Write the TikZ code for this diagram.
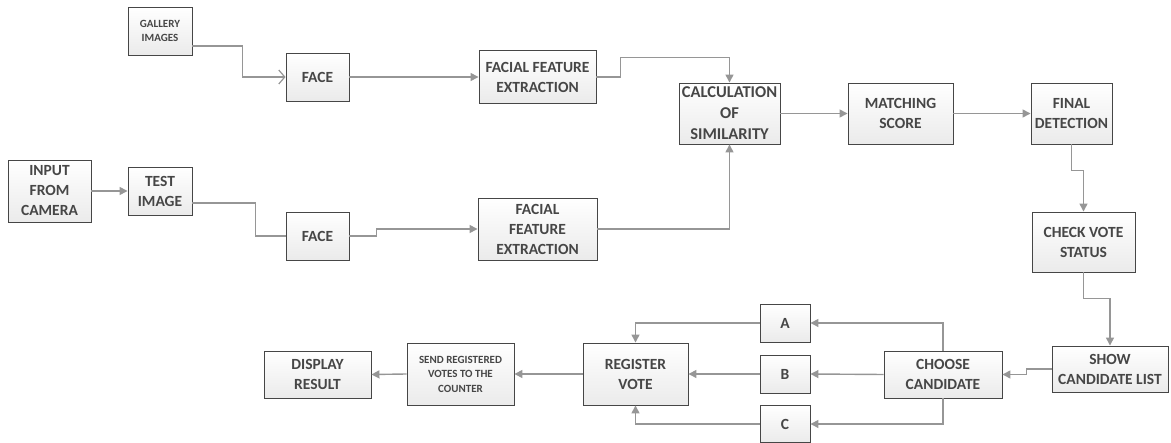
\documentclass[tikz,border=0pt]{standalone}
\usepackage{fontspec}
\setmainfont{Carlito}
\usetikzlibrary{arrows.meta,calc}
\definecolor{boxline}{RGB}{70,70,70}
\definecolor{conn}{RGB}{150,150,150}
\definecolor{txt}{RGB}{70,70,70}
\tikzset{
  blk/.style={draw=boxline, line width=0.9pt, top color=white, bottom color=gray!16,
    inner sep=0pt, align=center, text=txt, font=\fontsize{15.5}{20}\selectfont\bfseries},
  small/.style={font=\fontsize{11}{14.5}\selectfont\bfseries},
  big/.style={font=\fontsize{16.5}{21}\selectfont\bfseries},
  conx/.style={draw=conn, line width=1.4pt},
  arr/.style={conx, -{Triangle[length=8pt,width=8pt]}},
  barb/.style={conx, -{Straight Barb[length=6pt,width=14pt,line width=1.2pt]}},
}
\begin{document}
\begin{tikzpicture}[x=1pt,y=-1pt]
\useasboundingbox (0,0) rectangle (1171,443);
% nodes
\node[blk,small,minimum width=64,minimum height=48] (gallery) at (160,31) {GALLERY\\IMAGES};
\node[blk,minimum width=63,minimum height=48] (face1) at (317.5,77) {FACE};
\node[blk,minimum width=117,minimum height=53] (ffe1) at (537.5,77) {FACIAL FEATURE\\EXTRACTION};
\node[blk,big,minimum width=101,minimum height=61] (calc) at (729.5,113.5) {CALCULATION\\OF\\SIMILARITY};
\node[blk,minimum width=105,minimum height=61] (match) at (900.5,113.5) {MATCHING\\SCORE};
\node[blk,minimum width=81,minimum height=61] (final) at (1071.5,113.5) {FINAL\\DETECTION};
\node[blk,minimum width=103,minimum height=60] (check) at (1083.5,242) {CHECK VOTE\\STATUS};
\node[blk,minimum width=116,minimum height=46] (show) at (1110,369) {SHOW\\CANDIDATE LIST};
\node[blk,minimum width=118,minimum height=47] (choose) at (943,374.5) {CHOOSE\\CANDIDATE};
\node[blk,minimum width=50,minimum height=38] (A) at (785,323) {A};
\node[blk,minimum width=50,minimum height=38] (B) at (785,374) {B};
\node[blk,minimum width=50,minimum height=37] (C) at (785,424) {C};
\node[blk,minimum width=105,minimum height=62] (register) at (635.5,374) {REGISTER\\VOTE};
\node[blk,small,minimum width=107,minimum height=62] (send) at (460.5,374) {SEND REGISTERED\\VOTES TO THE\\COUNTER};
\node[blk,minimum width=107,minimum height=47] (display) at (317.5,374.5) {DISPLAY\\RESULT};
\node[blk,minimum width=83,minimum height=62] (input) at (49.5,191) {INPUT\\FROM\\CAMERA};
\node[blk,minimum width=64,minimum height=48] (test) at (160,191) {TEST\\IMAGE};
\node[blk,minimum width=63,minimum height=48] (face2) at (317.5,236) {FACE};
\node[blk,minimum width=119,minimum height=62] (ffe2) at (537.5,229) {FACIAL\\FEATURE\\EXTRACTION};
% connectors
\draw[barb] ([yshift=-15pt]gallery.east) -- ++(50,0) |- (face1.west);
\draw[arr] (face1.east) -- (ffe1.west);
\draw[arr] (ffe1.east) -- ++(24,0) |- ([yshift=25pt]calc.north) -- (calc.north);
\draw[arr] (ffe2.east) -| (calc.south);
\draw[arr] (calc.east) -- (match.west);
\draw[arr] (match.east) -- (final.west);
\draw[arr] (final.south) -- ++(0,26) -| (check.north);
\draw[arr] (check.south) -- ++(0,26) -| (show.north);
\draw[arr] (show.west) -- ++(-25,0) |- (choose.east);
\draw[arr] (choose.north) |- (A.east);
\draw[arr] (choose.west) -- (B.east);
\draw[arr] (choose.south) |- (C.east);
\draw[arr] (A.west) -| (register.north);
\draw[arr] (B.west) -- (register.east);
\draw[arr] (C.west) -| (register.south);
\draw[arr] (register.west) -- (send.east);
\draw[arr] (send.west) -- (display.east);
\draw[arr] (input.east) -- (test.west);
\draw[conx] ([yshift=-12pt]test.east) -- ++(63,0) |- (face2.west);
\draw[arr] (face2.east) -- ++(27,0) |- (ffe2.west);
\end{tikzpicture}
\end{document}
